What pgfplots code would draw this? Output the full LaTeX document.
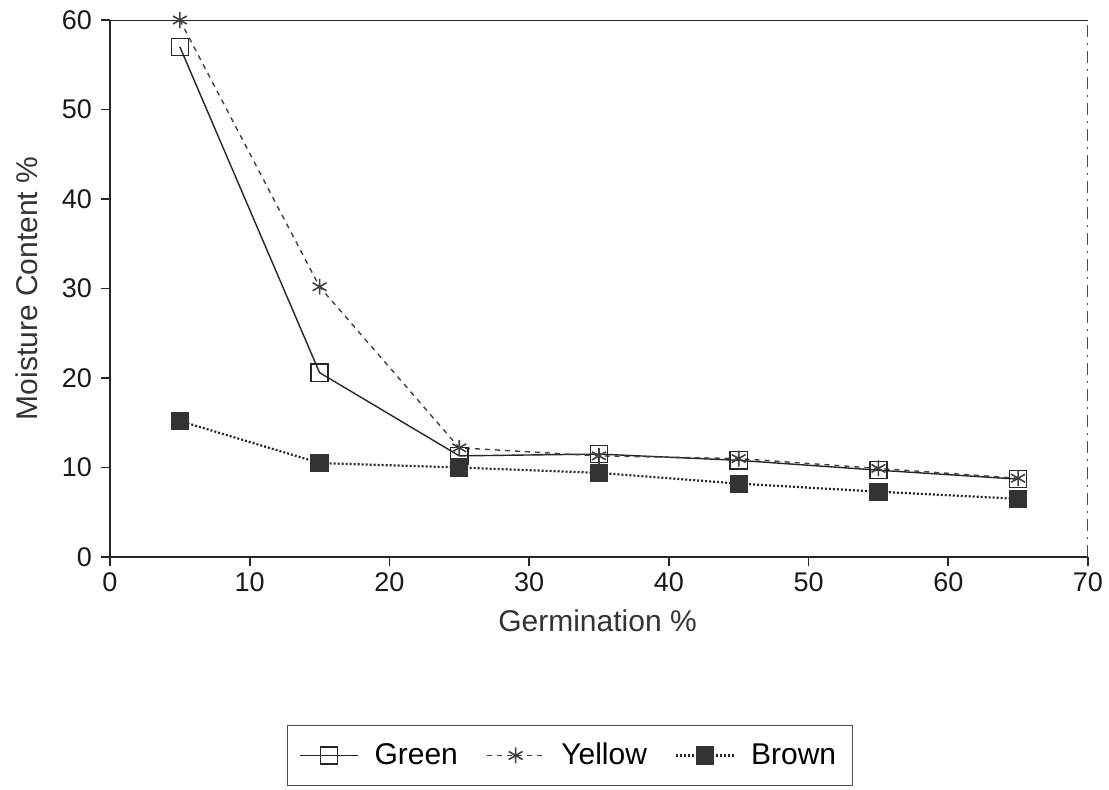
\documentclass[border=0pt]{standalone}
\usepackage{pgfplots}
\pgfplotsset{compat=1.18}
\usepackage{fontspec}
\setmainfont{Liberation Sans}
\begin{document}
\begin{tikzpicture}
\useasboundingbox (-55pt,-116pt) rectangle (499.5pt,278.5pt);
\begin{axis}[
  scale only axis,
  width=489pt, height=268.5pt,
  xmin=0, xmax=70, ymin=0, ymax=60,
  xtick={0,10,...,70}, ytick={0,10,...,60},
  axis x line=bottom, axis y line=left,
  axis line style={-, line width=0.9pt, black!85},
  tick align=outside, major tick length=4.5pt,
  tick style={black!85, line width=0.8pt},
  every tick label/.style={font=\fontsize{13.5}{15}\selectfont, black!90},
  yticklabel style={xshift=-1pt},
  /pgf/number format/assume math mode=true,
  xlabel={Germination \%}, ylabel={Moisture Content \%},
  label style={font=\fontsize{15}{17}\selectfont, black!80, inner sep=0pt},
  xlabel style={at={(axis description cs:0.4985,0)}, anchor=north, yshift=-26pt},
  ylabel style={at={(axis description cs:0,0.5)}, anchor=south, yshift=36pt},
  legend columns=3,
  legend image code/.code={\draw[mark repeat=2,mark phase=2,#1] plot coordinates {(0pt,0pt) (14.5pt,0pt) (29pt,0pt)};},
  legend style={at={(axis description cs:0.470,-0.3696)}, anchor=center,
    draw=black!70, solid, line width=0.6pt,
    font=\fontsize{15}{17}\selectfont,
    inner xsep=6pt, inner ysep=7pt,
    /tikz/every odd column/.append style={column sep=6pt},
    /tikz/every even column/.append style={column sep=12pt}},
  legend cell align=left,
]
\draw[line width=0.9pt, black!85] (axis cs:0,60) -- (axis cs:70,60);
\draw[line width=0.8pt, black!70, dash pattern=on 6pt off 3pt on 1pt off 3pt] (axis cs:70,0) -- (axis cs:70,60);
\addplot[black!85, line width=0.7pt, solid, mark=square, mark size=4.3pt, mark options={solid, line width=0.7pt}]
  coordinates {(5,57) (15,20.6) (25,11.3) (35,11.5) (45,10.8) (55,9.7) (65,8.7)};
\addlegendentry{Green}
\addplot[black!75, line width=0.7pt, dash pattern=on 2.5pt off 2.5pt, mark=asterisk, mark size=4pt, mark options={solid, line width=0.8pt}]
  coordinates {(5,60) (15,30.2) (25,12.2) (35,11.3) (45,11) (55,9.9) (65,8.8)};
\addlegendentry{Yellow}
\addplot[black!85, line width=1.1pt, dash pattern=on 1pt off 1pt, mark=square*, mark size=4pt, mark options={solid, fill=black!80, draw=black!80}]
  coordinates {(5,15.2) (15,10.5) (25,10) (35,9.4) (45,8.2) (55,7.3) (65,6.5)};
\addlegendentry{Brown}
\end{axis}
\end{tikzpicture}
\end{document}
